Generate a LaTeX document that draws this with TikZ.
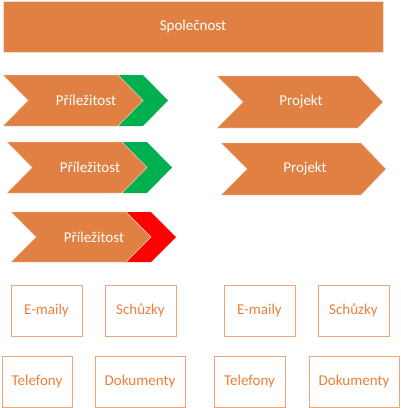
\documentclass[tikz,border=0pt]{standalone}
\usepackage{fontspec}
\setmainfont{Carlito}
\definecolor{org}{RGB}{224,128,66}
\definecolor{grn}{RGB}{0,176,80}
\definecolor{rd}{RGB}{255,0,0}
\definecolor{boxline}{RGB}{242,164,122}
\definecolor{boxtext}{RGB}{236,128,60}
\definecolor{edge}{RGB}{245,220,205}
\tikzset{
  chev/.style={fill=org, draw=edge, line width=0.4pt},
  wtext/.style={text=white, font=\fontsize{15}{17}\selectfont},
  otext/.style={text=boxtext, font=\fontsize{15}{17}\selectfont},
  obox/.style={draw=boxline, line width=0.9pt, fill=white}
}
\begin{document}
\begin{tikzpicture}[x=1pt,y=-1pt]
\useasboundingbox (0,0) rectangle (400,408);
% top bar
\draw[fill=org, draw=edge, line width=0.5pt] (3,1) rectangle (383,52);
\node[wtext] (spol) at (193,26.5) {Společnost};
% Prilezitost 1
\fill[grn] (118,75) -- (143,75) -- (168,100.5) -- (143,126) -- (118,126) -- (143,100.5) -- cycle;
\draw[chev] (3,75) -- (118,75) -- (143,100.5) -- (118,126) -- (3,126) -- (28,100.5) -- cycle;
\node[wtext] (p1) at (86,100.5) {Příležitost};
% Prilezitost 2
\fill[grn] (122,142) -- (147,142) -- (172,167.5) -- (147,193) -- (122,193) -- (147,167.5) -- cycle;
\draw[chev] (7,142) -- (122,142) -- (147,167.5) -- (122,193) -- (7,193) -- (32,167.5) -- cycle;
\node[wtext] (p2) at (90,167.5) {Příležitost};
% Prilezitost 3
\fill[rd] (126,212) -- (151,212) -- (176,237) -- (151,262) -- (126,262) -- (151,237) -- cycle;
\draw[chev] (11,212) -- (126,212) -- (151,237) -- (126,262) -- (11,262) -- (36,237) -- cycle;
\node[wtext] (p3) at (94,237) {Příležitost};
% Projekt 1
\draw[chev] (217,76) -- (358,76) -- (383,102) -- (358,128) -- (217,128) -- (243,102) -- cycle;
\node[wtext] (pr1) at (301,102) {Projekt};
% Projekt 2
\draw[chev] (221,143) -- (361,143) -- (386,169) -- (361,195) -- (221,195) -- (247,169) -- cycle;
\node[wtext] (pr2) at (305,169) {Projekt};
% boxes left
\node[obox, otext, minimum width=71pt, minimum height=51pt] (e1) at (46.5,310.5) {E-maily};
\node[obox, otext, minimum width=71pt, minimum height=51pt] (s1) at (140.5,310.5) {Schůzky};
\node[obox, otext, minimum width=70pt, minimum height=51pt] (t1) at (37,381.5) {Telefony};
\node[obox, otext, minimum width=90pt, minimum height=51pt] (d1) at (140,381.5) {Dokumenty};
% boxes right
\node[obox, otext, minimum width=71pt, minimum height=51pt] (e2) at (259.5,310.5) {E-maily};
\node[obox, otext, minimum width=71pt, minimum height=51pt] (s2) at (353.5,310.5) {Schůzky};
\node[obox, otext, minimum width=71pt, minimum height=51pt] (t2) at (249.5,381.5) {Telefony};
\node[obox, otext, minimum width=90pt, minimum height=51pt] (d2) at (354,381.5) {Dokumenty};
\end{tikzpicture}
\end{document}
